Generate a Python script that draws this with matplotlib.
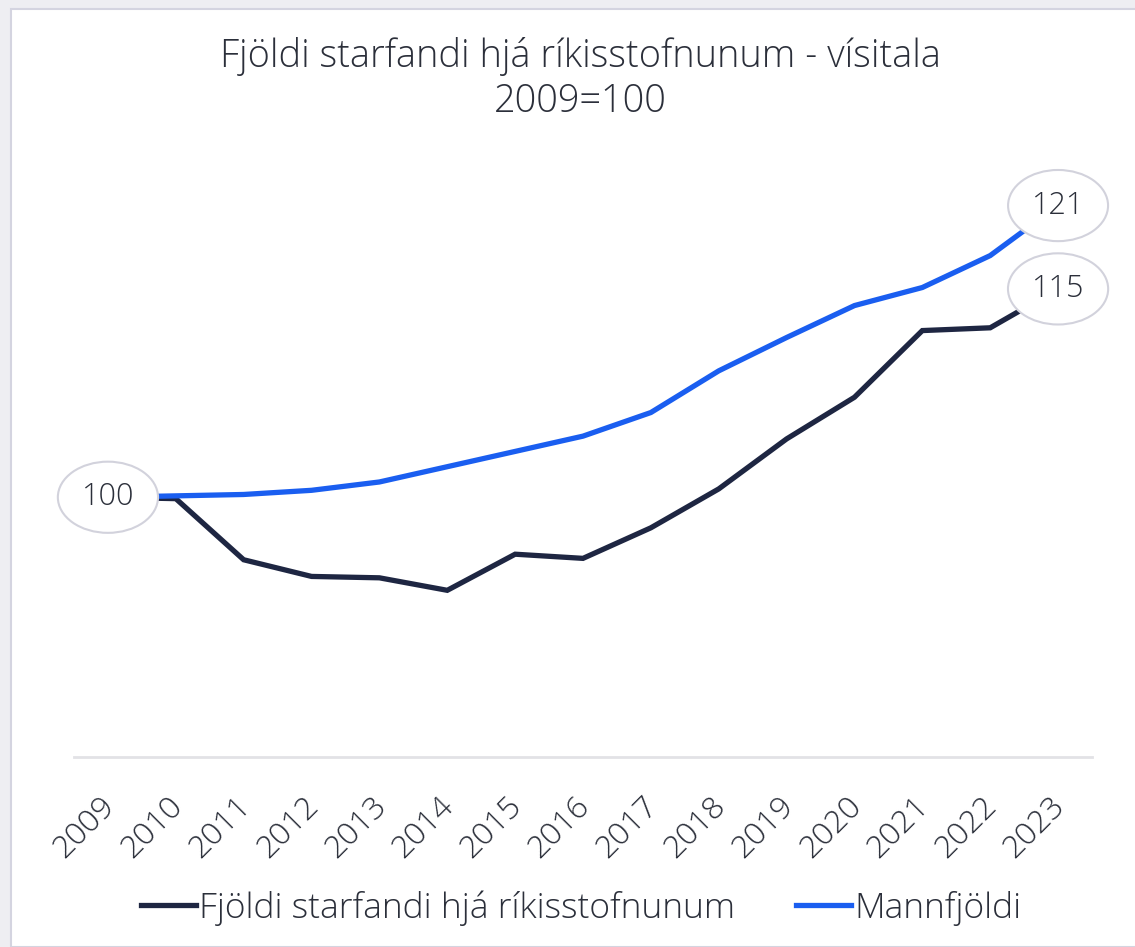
import matplotlib.pyplot as plt
from matplotlib.patches import Rectangle
from matplotlib.transforms import ScaledTranslation

plt.rcParams["font.family"] = ["Open Sans", "DejaVu Sans"]
plt.rcParams["font.weight"] = "light"

DARK = "#1e2642"
BLUE = "#1a5ef0"
TEXT = "#2b2f3a"

years = [str(y) for y in range(2009, 2024)]
starfandi = [100, 99.9, 95.5, 94.3, 94.2, 93.3, 95.9, 95.6, 97.8, 100.6,
             104.2, 107.2, 112.0, 112.2, 115]
mannfjoldi = [100, 100.1, 100.2, 100.5, 101.1, 102.2, 103.3, 104.4, 106.1,
              109.1, 111.5, 113.8, 115.1, 117.4, 121]
label_first = "100"
label_last = ["115", "121"]

W, H = 1135, 947
fig = plt.figure(figsize=(W / 100, H / 100), dpi=100, facecolor="#eeeef2")

# white card with a thin edge on the left / top
fig.patches.append(Rectangle((11 / W, 0), 1, 1 - 9 / H, transform=fig.transFigure,
                             facecolor="white", edgecolor="#d4d4e0", linewidth=1.5,
                             zorder=-5))

ax = fig.add_axes([74 / W, (H - 757) / H, (1092 - 74) / W, (757 - 150) / H])
ax.set_facecolor("none")

x = list(range(len(years)))
ax.plot(x, starfandi, color=DARK, linewidth=3.8, solid_joinstyle="miter",
        label="Fjöldi starfandi hjá ríkisstofnunum", zorder=2)
ax.plot(x, mannfjoldi, color=BLUE, linewidth=3.8, solid_joinstyle="miter",
        label="Mannfjöldi", zorder=3)

box = dict(boxstyle="ellipse,pad=0.3", facecolor="white", edgecolor="#d2d2dc",
           linewidth=1.5)
ax.text(x[0], starfandi[0], label_first, ha="center", va="center", fontsize=22,
        color=TEXT, bbox=box, zorder=5)
ax.text(x[-1], starfandi[-1], label_last[0], ha="center", va="center", fontsize=22,
        color=TEXT, bbox=box, zorder=5)
ax.text(x[-1], mannfjoldi[-1], label_last[1], ha="center", va="center", fontsize=22,
        color=TEXT, bbox=box, zorder=5)

ax.set_xlim(-0.5, len(years) - 0.5)
ax.set_ylim(81.3, 125)
ax.set_yticks([])
ax.set_xticks(x)
ax.set_xticklabels(years, rotation=45, ha="right", va="top",
                   rotation_mode="anchor", fontsize=23, color=TEXT)
ax.tick_params(axis="x", length=0, pad=24)
shift = ScaledTranslation(-9 / 100, 0, fig.dpi_scale_trans)
for lbl in ax.get_xticklabels():
    lbl.set_transform(lbl.get_transform() + shift)
for side in ["top", "left", "right"]:
    ax.spines[side].set_visible(False)
ax.spines["bottom"].set_color("#e2e2e6")
ax.spines["bottom"].set_linewidth(2)

fig.text(580 / W, 1 - 56 / H, "Fjöldi starfandi hjá ríkisstofnunum - vísitala",
         ha="center", va="center", fontsize=27.3, color=TEXT)
fig.text(580 / W, 1 - 102 / H, "2009=100", ha="center", va="center",
         fontsize=27.3, color=TEXT)

fig.legend(loc="center", bbox_to_anchor=(581 / W, 1 - 908 / H), ncol=2,
           frameon=False, fontsize=25.5, handlelength=1.55, handletextpad=0.1,
           columnspacing=1.7, labelcolor=TEXT)

fig.savefig("out.png", dpi=100, facecolor=fig.get_facecolor())
